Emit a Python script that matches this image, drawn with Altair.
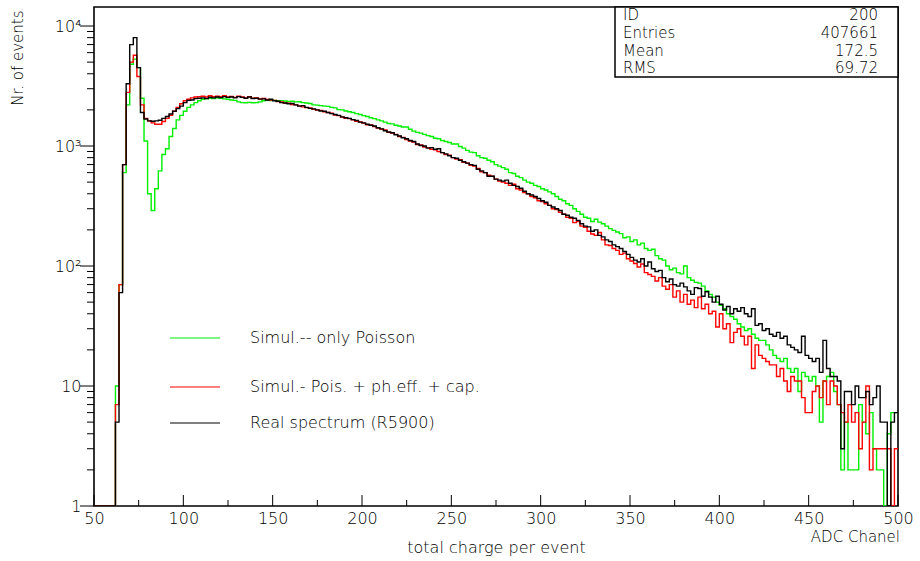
import altair as alt
import pandas as pd

# ---------------- data ----------------
X_START = 50
X_END = 500
BIN_WIDTH = 2
Y_MIN = 1
Y_MAX = 14400

# Real spectrum (R5900), 2-channel bins starting at 50
real_r5900 = [
    0, 0, 0, 0, 0, 0, 5, 60, 700, 3300,
    7000, 8000, 4500, 1900, 1680, 1620, 1610, 1620, 1640, 1700,
    1760, 1850, 1950, 2050, 2150, 2300, 2400, 2420, 2480, 2500,
    2520, 2480, 2550, 2520, 2560, 2530, 2580, 2540, 2560, 2520,
    2580, 2540, 2500, 2560, 2490, 2500, 2460, 2470, 2420, 2450,
    2380, 2360, 2300, 2280, 2250, 2260, 2200, 2150, 2170, 2100,
    2060, 2040, 2000, 1960, 1950, 1900, 1860, 1830, 1800, 1750,
    1720, 1700, 1660, 1630, 1580, 1560, 1520, 1490, 1470, 1420,
    1390, 1340, 1310, 1290, 1240, 1210, 1170, 1150, 1110, 1090,
    1040, 1010, 1000, 960, 970, 940, 950, 880, 860, 830,
    800, 790, 760, 740, 720, 700, 690, 640, 620, 600,
    560, 560, 530, 520, 510, 520, 490, 470, 460, 445,
    420, 400, 390, 380, 365, 350, 340, 320, 310, 300,
    290, 270, 265, 255, 250, 240, 225, 215, 212, 195,
    200, 180, 175, 165, 160, 150, 145, 140, 132, 125,
    118, 112, 108, 115, 100, 108, 95, 90, 92, 80,
    74, 78, 70, 68, 72, 67, 62, 58, 66, 65,
    56, 61, 55, 50, 56, 48, 43, 46, 40, 44,
    42, 45, 40, 38, 44, 32, 33, 29, 30, 27,
    26, 28, 25, 26, 22, 21, 20, 19, 26, 18,
    17, 16, 17, 13, 24, 14, 12, 12, 11, 3,
    9, 9, 7, 10, 8, 8, 9, 7, 8, 10,
    5, 5, 0, 5, 6,
]

# Simulation: Poisson + photo-efficiency + capacitance
sim_pois_pheff_cap = [
    0, 0, 0, 0, 0, 0, 7, 70, 700, 2800,
    5000, 5700, 3800, 2200, 1700, 1620, 1560, 1520, 1520, 1600,
    1700, 1800, 1950, 2100, 2250, 2380, 2450, 2520, 2560, 2580,
    2600, 2560, 2620, 2580, 2600, 2570, 2620, 2560, 2590, 2540,
    2600, 2560, 2520, 2580, 2500, 2520, 2470, 2490, 2440, 2420,
    2400, 2350, 2330, 2280, 2270, 2220, 2200, 2160, 2120, 2090,
    2080, 2020, 1990, 1980, 1930, 1900, 1880, 1810, 1790, 1740,
    1700, 1690, 1650, 1610, 1590, 1550, 1500, 1500, 1450, 1410,
    1380, 1360, 1300, 1280, 1250, 1200, 1180, 1130, 1100, 1080,
    1030, 1020, 980, 970, 940, 930, 900, 880, 850, 840,
    800, 780, 770, 730, 720, 690, 680, 650, 610, 600,
    570, 560, 530, 510, 500, 490, 470, 480, 440, 430,
    410, 400, 380, 370, 350, 345, 330, 320, 300, 295,
    280, 270, 255, 250, 230, 235, 215, 210, 195, 185,
    180, 190, 165, 150, 148, 140, 135, 125, 128, 115,
    110, 105, 98, 104, 88, 85, 82, 75, 80, 68,
    64, 70, 55, 62, 50, 58, 48, 52, 45, 55,
    44, 48, 40, 42, 31, 40, 30, 33, 23, 28,
    30, 26, 22, 26, 14, 22, 18, 17, 16, 15,
    15, 12, 14, 11, 9, 12, 11, 11, 8, 6,
    6, 9, 10, 8, 11, 7, 11, 10, 7, 6,
    5, 7, 5, 6, 3, 5, 10, 2, 3, 3,
    3, 3, 3, 0, 3,
]

# Simulation: only Poisson
sim_only_poisson = [
    0, 0, 0, 0, 0, 0, 10, 70, 600, 2200,
    4800, 5300, 4500, 2500, 1100, 400, 290, 440, 620, 850,
    950, 1200, 1400, 1650, 1800, 1950, 2100, 2200, 2300, 2380,
    2450, 2480, 2500, 2490, 2520, 2500, 2470, 2450, 2420, 2400,
    2330, 2300, 2290, 2310, 2290, 2300, 2330, 2380, 2400, 2390,
    2400, 2380, 2390, 2370, 2350, 2360, 2330, 2340, 2300, 2280,
    2260, 2200, 2190, 2170, 2150, 2140, 2100, 2080, 2010, 2000,
    1960, 1930, 1900, 1860, 1830, 1790, 1760, 1720, 1690, 1650,
    1620, 1580, 1540, 1530, 1490, 1470, 1440, 1440, 1380, 1330,
    1300, 1280, 1250, 1220, 1200, 1160, 1150, 1110, 1090, 1070,
    1040, 1040, 990, 960, 920, 890, 880, 830, 800, 790,
    760, 740, 700, 680, 660, 640, 600, 590, 560, 545,
    520, 500, 490, 470, 460, 440, 430, 415, 400, 380,
    360, 350, 330, 320, 300, 285, 270, 255, 250, 235,
    245, 232, 225, 215, 205, 198, 192, 186, 172, 175,
    160, 165, 150, 155, 140, 135, 138, 122, 115, 112,
    100, 93, 96, 88, 86, 100, 80, 76, 73, 72,
    68, 62, 58, 55, 50, 47, 44, 40, 38, 36,
    33, 31, 29, 30, 27, 25, 24, 24, 22, 20,
    18, 17, 16, 17, 14, 13, 14, 9, 13, 12,
    11, 12, 10, 5, 11, 12, 13, 9, 7, 2,
    5, 2, 2, 2, 7, 5, 4, 6, 3, 2,
    2, 0, 4, 6, 6,
]

legend_labels = ["Simul.-- only Poisson", "Simul.- Pois. + ph.eff. + cap.", "Real spectrum (R5900)"]
stat_names = ["ID", "Entries", "Mean", "RMS"]
stat_values = ["200", "407661", "172.5", "69.72"]

x_label_values = [50, 100, 150, 200, 250, 300, 350, 400, 450, 500]
x_tick_values = [50, 75, 100, 125, 150, 175, 200, 225, 250, 275, 300, 325,
                 350, 375, 400, 425, 450, 475, 500]
y_label_values = [1, 10, 100, 1000, 10000]
y_tick_values = [1, 2, 3, 4, 5, 6, 7, 8, 9,
                 10, 20, 30, 40, 50, 60, 70, 80, 90,
                 100, 200, 300, 400, 500, 600, 700, 800, 900,
                 1000, 2000, 3000, 4000, 5000, 6000, 7000, 8000, 9000, 10000]

# ---------------- layout / style ----------------
W, H = 804, 499
FONT = "DejaVu Sans"
FW = 200
GREEN, RED, BLACK = "#00ee00", "#ff0000", "#000000"
legend_colors = [GREEN, RED, BLACK]
legend_y = [331, 380, 416]
stat_y = [8, 26, 43.5, 61]

xscale = alt.Scale(domain=[X_START, X_END], nice=False, zero=False)
yscale = alt.Scale(type="log", domain=[Y_MIN, Y_MAX], nice=False)

xaxis = alt.Axis(values=x_label_values, ticks=False, grid=False, domain=False,
                 labelFont=FONT, labelFontSize=16, labelFontWeight=FW, labelColor="black",
                 labelPadding=4, labelFlush=False, labelOverlap=False,
                 title="total charge per event", titleFont=FONT, titleFontSize=16,
                 titleFontWeight=FW, titleColor="black", titlePadding=13)

y_label_expr = ("datum.value == 10000 ? '10\u2074' : datum.value == 1000 ? '10\u00b3' : "
                "datum.value == 100 ? '10\u00b2' : datum.value == 10 ? '10' : '1'")
yaxis = alt.Axis(values=y_label_values, ticks=False, grid=False, domain=False,
                 labelExpr=y_label_expr, labelFont=FONT, labelFontSize=16, labelFontWeight=FW,
                 labelColor="black", labelPadding=13, labelFlush=False, labelOverlap=False,
                 title="Nr. of events", titleFont=FONT, titleFontSize=15, titleFontWeight=FW,
                 titleColor="black", titleAngle=270, titleAlign="right", titleBaseline="middle",
                 titleX=-77, titleY=3)


def hist_frame(values):
    edges = [X_START + BIN_WIDTH * i for i in range(len(values))] + [X_END]
    counts = list(values) + [values[-1]]
    return pd.DataFrame({"adc": edges, "count": counts})


def hist_layer(values, color):
    return alt.Chart(hist_frame(values)).transform_calculate(
        c="max(datum.count, 1)"
    ).mark_line(interpolate="step-after", color=color, strokeWidth=1.4, clip=True).encode(
        x=alt.X("adc:Q", scale=xscale, axis=xaxis),
        y=alt.Y("c:Q", scale=yscale, axis=yaxis),
    )


green_line = hist_layer(sim_only_poisson, GREEN)
red_line = hist_layer(sim_pois_pheff_cap, RED)
black_line = hist_layer(real_r5900, BLACK)

# ticks (ROOT style: x ticks inside, y ticks outside)
xticks = alt.Chart(pd.DataFrame({"v": x_tick_values})).transform_calculate(
    y0=f"{H} - (datum.v % 50 == 0 ? 11 : 6)"
).mark_rule(color="black", strokeWidth=1).encode(
    x=alt.X("v:Q", scale=xscale, axis=xaxis),
    y=alt.Y("y0:Q", scale=None),
    y2=alt.value(H),
)

yticks = alt.Chart(pd.DataFrame({"v": y_tick_values})).transform_calculate(
    x0="indexof([1, 10, 100, 1000, 10000], datum.v) >= 0 ? -14 : -7"
).mark_rule(color="black", strokeWidth=1).encode(
    y=alt.Y("v:Q", scale=yscale, axis=yaxis),
    x=alt.X("x0:Q", scale=None),
    x2=alt.value(0),
)

adc_title = alt.Chart(pd.DataFrame({"t": ["ADC Chanel"]})).mark_text(
    font=FONT, fontSize=15, fontWeight=FW, align="right", baseline="middle", color="black"
).encode(text="t:N", x=alt.value(W + 2), y=alt.value(H + 31))

# legend
leg_df = pd.DataFrame({"label": legend_labels, "color": legend_colors, "ly": legend_y})
leg_lines = alt.Chart(leg_df).mark_rule(strokeWidth=1.2).encode(
    x=alt.value(76), x2=alt.value(126),
    y=alt.Y("ly:Q", scale=None),
    color=alt.Color("color:N", scale=None, legend=None),
)
leg_text = alt.Chart(leg_df).mark_text(
    font=FONT, fontSize=16, fontWeight=FW, align="left", baseline="middle", color="black"
).encode(text="label:N", x=alt.value(156), y=alt.Y("ly:Q", scale=None))

# stats box
stats_box = alt.Chart(pd.DataFrame({"d": [0]})).mark_rect(
    fill="white", stroke="black", strokeWidth=1.5
).encode(x=alt.value(521), x2=alt.value(W), y=alt.value(0), y2=alt.value(70))

stat_df = pd.DataFrame({"name": stat_names, "val": stat_values, "sy": stat_y})
stat_names_txt = alt.Chart(stat_df).mark_text(
    font=FONT, fontSize=15, fontWeight=FW, align="left", baseline="middle", color="black"
).encode(text="name:N", x=alt.value(529), y=alt.Y("sy:Q", scale=None))
stat_vals_txt = alt.Chart(stat_df).mark_text(
    font=FONT, fontSize=15, fontWeight=FW, align="right", baseline="middle", color="black"
).encode(text="val:N", x=alt.value(784), y=alt.Y("sy:Q", scale=None))

chart = alt.layer(
    green_line, red_line, black_line, xticks, yticks, adc_title,
    leg_lines, leg_text, stats_box, stat_names_txt, stat_vals_txt,
).properties(
    width=W, height=H,
    padding={"left": 94, "top": 7, "right": 22, "bottom": 55},
    autosize=alt.AutoSizeParams(type="none"),
    background="white",
).configure_view(stroke="black", strokeWidth=1.6)

chart.save("out.html", embed_options={"renderer": "svg", "actions": False})
